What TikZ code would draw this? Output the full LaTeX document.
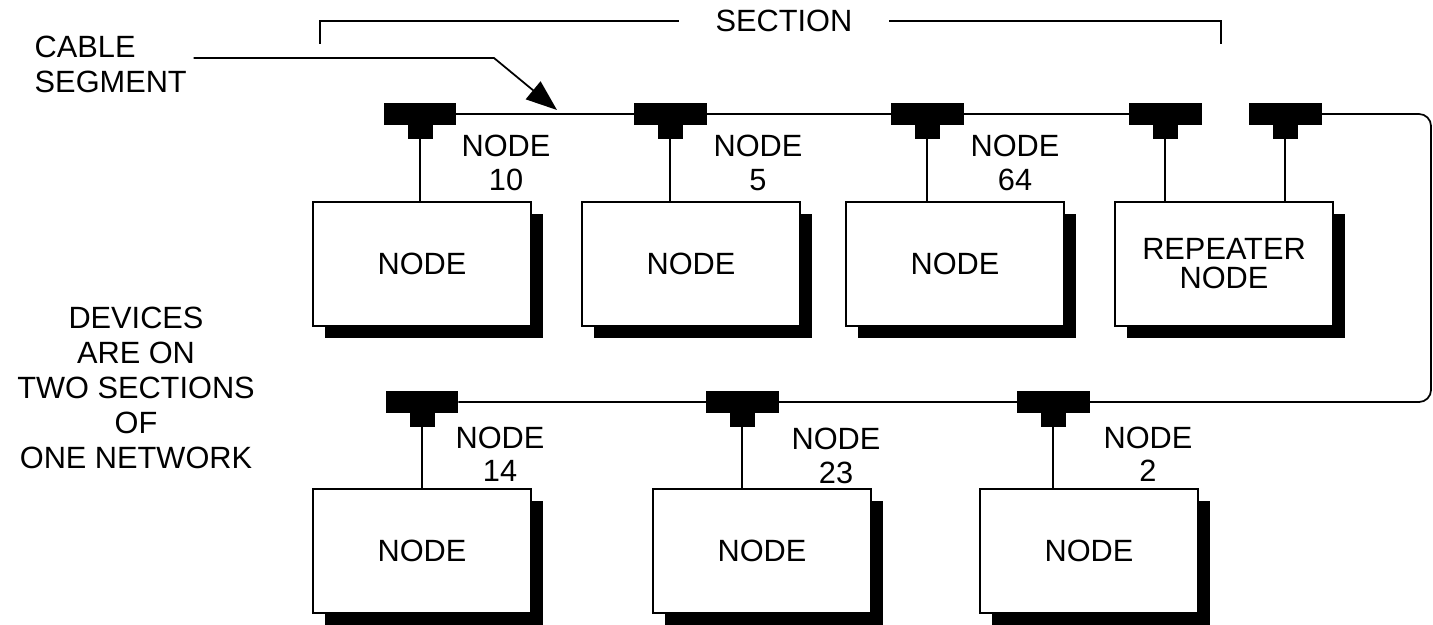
\documentclass[tikz,border=0pt]{standalone}
\usepackage{fontspec}
\setmainfont{Liberation Sans}
\usetikzlibrary{positioning,arrows.meta,shadows}

\begin{document}
\begin{tikzpicture}[x=0.02cm,y=-0.02cm,line width=1pt,
  font=\fontsize{17.5}{20}\selectfont,
  unit/.style={draw,fill=white,minimum width=4.36cm,minimum height=2.48cm,
    drop shadow={shadow xshift=.24cm,shadow yshift=-.24cm,fill=black,opacity=1}},
  tbar/.style={fill,inner sep=0pt,outer sep=0pt,minimum width=1.46cm,minimum height=.44cm},
  tstem/.style={fill,inner sep=0pt,outer sep=0pt,minimum width=.5cm,minimum height=.28cm},
  lbl/.style={align=center,font=\fontsize{17.5}{19}\selectfont}]
\useasboundingbox (0,0) rectangle (1433,625);
% devices
\node (b1) [unit] at (422,264) {NODE};
\node (b2) [unit] at (691,264) {NODE};
\node (b3) [unit] at (955,264) {NODE};
\node (b4) [unit,align=center,font=\fontsize{17.5}{16.5}\selectfont] at (1224,264) {REPEATER\\NODE};
\node (b5) [unit] at (422,551) {NODE};
\node (b6) [unit] at (762,551) {NODE};
\node (b7) [unit] at (1089,551) {NODE};
% taps on the cable
\foreach \n/\x/\y in {1/420/114,2/670/114,3/927/114,4/1165/114,5/1285/114,6/422/402,7/742/402,8/1053/402}{
  \node (t\n) [tbar] at (\x,\y) {};
  \node (s\n) [tstem,below=0pt of t\n] {};
}
\foreach \n/\b in {1/b1,2/b2,3/b3,4/b4,5/b4,6/b5,7/b6,8/b7}
  \draw (s\n.south) -- (s\n.south |- \b.north);
\draw (t1.east) -- (t4.west);
\draw[rounded corners=.24cm] (t5.east) -- (1431,114) -- (1431,402) -- (t6.east);
% addresses
\node (l10) [lbl] at (506,163) {NODE\\10};
\node (l5) [lbl] at (758,163) {NODE\\5};
\node (l64) [lbl] at (1015,163) {NODE\\64};
\node (l14) [lbl] at (500,454) {NODE\\14};
\node (l23) [lbl] at (836,456) {NODE\\23};
\node (l2) [lbl] at (1148,454) {NODE\\2};
% section bracket
\node (sec) [inner xsep=.72cm] at (784,21) {SECTION};
\draw (320,44) |- (sec.west);
\draw (sec.east) -| (1221,44);
% cable segment
\node (cab) [align=left,anchor=west] at (28,64) {CABLE\\SEGMENT};
\coordinate (bend) at (494,58);
\coordinate (tip) at (557,110);
\draw[-{Triangle[length=.62cm,width=.46cm]}] (cab.east |- bend) -- (bend) -- (tip);
\node (dev) [align=center] at (136,388) {DEVICES\\ARE ON\\TWO SECTIONS\\OF\\ONE NETWORK};
\end{tikzpicture}
\end{document}
